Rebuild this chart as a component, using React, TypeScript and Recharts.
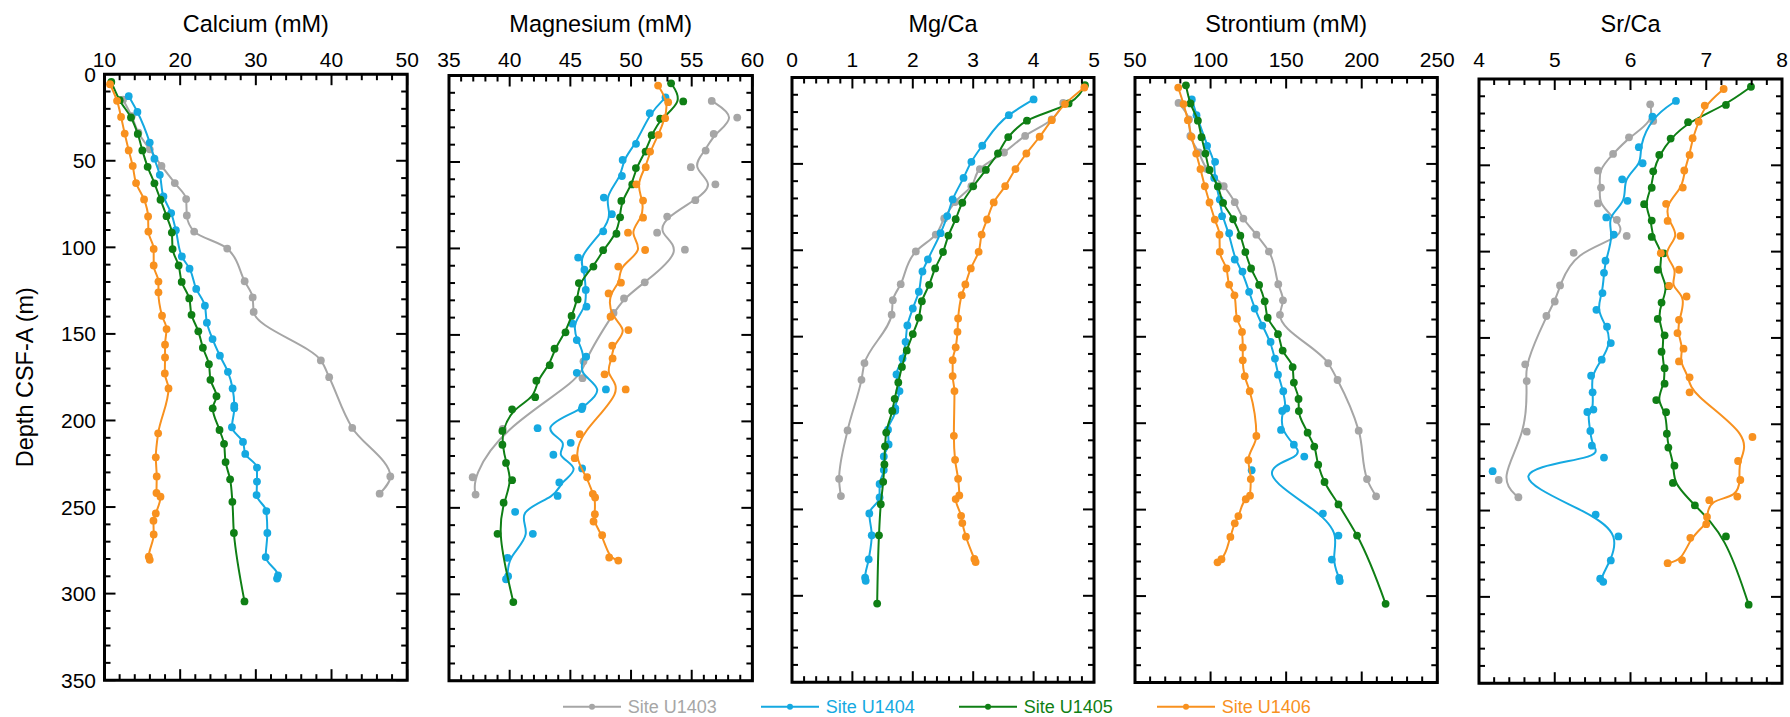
import React from 'react';
import { ScatterChart, Scatter, XAxis, YAxis, ReferenceArea } from 'recharts';

// Sites (legend order) and their colours
const SITES = ['Site U1403', 'Site U1404', 'Site U1405', 'Site U1406'];
const COLORS = ['#a6a6a6', '#15a9e1', '#0f7f15', '#f8911f'];

// Sample depths per site (m CSF-A)
const depthU1403 = [14.7, 24.3, 33.8, 43.4, 53, 62.9, 72.1, 81.6, 90.9, 100.7, 119.6, 128.9, 137.3, 165.3, 175, 204.3, 232.3, 242.3];
const depthU1404 = [12.7, 21.8, 39.5, 48.8, 58.1, 70.6, 80.2, 90.1, 105.3, 112.3, 124, 133.7, 143.5, 153, 162.6, 171.9, 181.5, 191.5, 192.9, 203.9, 212.4, 219.3, 227.2, 235.3, 243.1, 252.3, 265, 278.9, 289.5, 291.3];
const depthU1405 = [4.5, 15, 25, 34.5, 44, 53.5, 63, 72.5, 82, 91.5, 101, 110.5, 120, 129.5, 139, 148.5, 158, 167.5, 176.5, 186, 193, 205.5, 213.5, 224, 234, 247, 265, 304.5];
const depthU1406 = [5.8, 15.4, 24.7, 34.3, 44, 53, 62.9, 72.3, 82.2, 90.9, 100.9, 110.5, 119.8, 126, 139.5, 147.2, 156.2, 163.6, 172.8, 181.5, 207.4, 221.3, 232.3, 241.9, 244, 253.7, 257.9, 265.8, 278.7, 280.5];

// Calcium (mM)
const caU1403 = [12.45, 13.6, 14.48, 15.98, 17.53, 19.29, 20.79, 20.88, 21.85, 26.22, 28.52, 29.58, 29.71, 38.59, 39.69, 42.74, 47.77, 46.36];
const caU1404 = [13.2, 14.35, 15.98, 16.6, 17.31, 17.79, 18.81, 19.43, 20.22, 21.24, 22.12, 23.27, 23.53, 24.28, 25.25, 26.31, 26.93, 27.15, 27.15, 26.84, 28.3, 28.6, 30.15, 30.15, 30.1, 31.39, 31.52, 31.3, 32.93, 32.8];
const caU1405 = [10.9, 12.0, 13.5, 14.4, 15.0, 15.7, 16.6, 17.4, 18.2, 18.9, 19.0, 19.8, 20.2, 21.2, 21.5, 22.4, 23.0, 23.8, 24.0, 24.8, 24.3, 25.2, 25.8, 26.0, 26.6, 26.9, 27.1, 28.5];
const caU1406 = [10.73, 11.66, 12.19, 12.67, 13.2, 13.73, 14.17, 15.23, 15.76, 15.8, 16.5, 16.5, 17.13, 17.13, 17.6, 18.2, 18.0, 18.0, 17.97, 18.46, 17.09, 16.78, 16.9, 16.87, 17.4, 16.78, 16.47, 16.5, 15.85, 15.98];

// Magnesium (mM)
const mgU1403 = [56.65, 58.75, 56.81, 56.15, 54.93, 56.95, 55.3, 52.98, 52.15, 54.44, 51.13, 49.42, 48.56, 46.08, 46.0, 39.43, 36.95, 37.19];
const mgU1404 = [52.84, 51.54, 50.41, 49.31, 49.25, 47.76, 48.42, 47.71, 45.64, 46.16, 46.27, 46.33, 45.17, 45.53, 46.3, 45.53, 47.93, 46.0, 45.94, 42.3, 45.03, 43.6, 45.97, 44.09, 43.95, 40.45, 41.91, 39.82, 39.87, 39.7];
const mgU1405 = [53.3, 54.3, 52.4, 51.7, 51.2, 50.4, 50.1, 49.2, 49.1, 48.8, 47.7, 46.9, 45.7, 45.6, 45.1, 44.6, 43.7, 43.3, 42.2, 42.1, 40.2, 39.4, 39.4, 39.7, 40.2, 39.5, 39.0, 40.3];
const mgU1406 = [52.23, 53.06, 52.81, 52.26, 51.57, 51.21, 50.44, 50.99, 50.99, 49.75, 51.16, 48.95, 49.17, 48.15, 48.31, 49.78, 48.45, 48.48, 47.82, 49.56, 45.77, 45.36, 46.38, 46.85, 47.04, 47.02, 46.91, 47.62, 48.2, 48.95];

// Mg/Ca
const mgcaU1403 = [4.49, 4.3, 3.86, 3.51, 3.11, 2.97, 2.7, 2.52, 2.38, 2.05, 1.8, 1.67, 1.65, 1.2, 1.15, 0.92, 0.78, 0.81];
const mgcaU1404 = [4.0, 3.59, 3.15, 2.97, 2.84, 2.66, 2.57, 2.46, 2.25, 2.16, 2.1, 2.0, 1.91, 1.88, 1.83, 1.73, 1.78, 1.71, 1.71, 1.59, 1.6, 1.52, 1.52, 1.45, 1.45, 1.28, 1.32, 1.27, 1.21, 1.22];
const mgcaU1405 = [4.85, 4.58, 3.89, 3.58, 3.41, 3.21, 3.0, 2.82, 2.71, 2.59, 2.5, 2.37, 2.27, 2.15, 2.1, 2.0, 1.9, 1.82, 1.76, 1.7, 1.66, 1.56, 1.54, 1.53, 1.51, 1.47, 1.44, 1.41];
const mgcaU1406 = [4.84, 4.52, 4.3, 4.1, 3.88, 3.7, 3.53, 3.34, 3.23, 3.14, 3.09, 2.96, 2.87, 2.81, 2.75, 2.74, 2.71, 2.66, 2.66, 2.69, 2.68, 2.7, 2.75, 2.77, 2.71, 2.8, 2.82, 2.88, 3.02, 3.04];

// Strontium (mM) - null where no sample was plotted
const srU1403 = [78.8, 85.7, 86.6, 92.2, 97.6, 108.7, 116.0, 121.7, 130.3, 138.6, 144.8, 147.9, 145.9, 177.8, 184.0, 198.0, 203.5, 209.5];
const srU1404 = [87.6, 90.7, 97.7, 103.0, 102.4, 106.1, 107.6, 112.3, 116.0, 121.1, 125.5, 129.2, 134.2, 139.7, 142.6, 144.6, 148.1, 150.1, 147.4, 146.6, 155.1, 162.0, 127.2, null, null, 174.3, 184.6, 180.2, 185.1, 185.5];
const srU1405 = [83.7, 86.7, 91.6, 94, 96.6, 99.3, 104.8, 108.3, 114.9, 119.7, 123.0, 126.8, 132.1, 135.8, 137.8, 144.6, 147.7, 154.3, 155.1, 158.2, 158.4, 164.2, 168.6, 171.2, 175.4, 184.6, 196.9, 215.8];
const srU1406 = [78.6, 82.1, 85.0, 87.4, 90.5, 93.3, 96.2, 99.3, 102.8, 105.9, 106.1, 110.5, 112.3, 115.8, 117.5, 120.8, 121.3, 121.3, 122.6, 125.9, 130.3, 125.0, 126.6, 126.1, 123.3, 118.4, 116, 113.1, 107.2, 104.6];

// Sr/Ca
const srcaU1403 = [6.26, 6.3, 5.98, 5.77, 5.57, 5.61, 5.57, 5.82, 5.95, 5.25, 5.07, 5.0, 4.89, 4.61, 4.63, 4.63, 4.26, 4.52];
const srcaU1404 = [6.6, 6.29, 6.11, 6.16, 5.89, 5.96, 5.68, 5.78, 5.67, 5.65, 5.63, 5.55, 5.69, 5.74, 5.62, 5.48, 5.5, 5.51, 5.43, 5.47, 5.49, 5.65, 4.18, null, null, 5.54, 5.84, 5.74, 5.6, 5.64];
const srcaU1405 = [7.59, 7.26, 6.76, 6.53, 6.38, 6.3, 6.28, 6.18, 6.28, 6.28, 6.44, 6.36, 6.5, 6.41, 6.36, 6.45, 6.41, 6.45, 6.45, 6.34, 6.47, 6.48, 6.5, 6.58, 6.56, 6.85, 7.26, 7.56];
const srcaU1406 = [7.23, 6.98, 6.9, 6.82, 6.78, 6.71, 6.69, 6.47, 6.49, 6.66, 6.4, 6.64, 6.51, 6.74, 6.64, 6.62, 6.7, 6.64, 6.78, 6.78, 7.61, 7.42, 7.45, 7.41, 7.04, 7.01, 7.0, 6.79, 6.68, 6.49];

// Tick labels
const depthTicks = [0, 50, 100, 150, 200, 250, 300, 350];
const caTicks = [10, 20, 30, 40, 50];
const mgTicks = [35, 40, 45, 50, 55, 60];
const mgcaTicks = [0, 1, 2, 3, 4, 5];
const srTicks = [50, 100, 150, 200, 250];
const srcaTicks = [4, 5, 6, 7, 8];

const DEPTHS = [depthU1403, depthU1404, depthU1405, depthU1406];

// box = plot frame [left, top, right, bottom] in page pixels
const panels = [
  { title: 'Calcium (mM)', ticks: caTicks, minor: 2, series: [caU1403, caU1404, caU1405, caU1406], curves: ['monotoneY', 'monotoneY', 'monotoneY', 'monotoneY'], box: [104.5, 74.2, 407.2, 680.2] },
  { title: 'Magnesium (mM)', ticks: mgTicks, minor: 1, series: [mgU1403, mgU1404, mgU1405, mgU1406], curves: ['basis', 'basis', 'basis', 'basis'], box: [448.8, 75.5, 752.2, 680.8] },
  { title: 'Mg/Ca', ticks: mgcaTicks, minor: 0.2, series: [mgcaU1403, mgcaU1404, mgcaU1405, mgcaU1406], curves: ['monotoneY', 'monotoneY', 'monotoneY', 'monotoneY'], box: [791.5, 77.5, 1093.5, 682.2] },
  { title: 'Strontium (mM)', ticks: srTicks, minor: 10, series: [srU1403, srU1404, srU1405, srU1406], curves: ['monotoneY', 'basis', 'monotoneY', 'monotoneY'], box: [1134.5, 77.5, 1436.8, 682.5] },
  { title: 'Sr/Ca', ticks: srcaTicks, minor: 0.2, series: [srcaU1403, srcaU1404, srcaU1405, srcaU1406], curves: ['basis', 'basis', 'basis', 'basis'], box: [1478.5, 79, 1781.5, 683.2] },
];

const FONT = '"Liberation Sans", Arial, Helvetica, sans-serif';
const MAJOR_LEN = 11;
const MINOR_LEN = 6;
const LABEL_BASELINE = 66.7;

const stepTicks = (lo: number, hi: number, step: number) => {
  const n = Math.round((hi - lo) / step);
  const out: number[] = [];
  for (let i = 0; i <= n; i++) out.push(Math.round((lo + i * step) * 1000) / 1000);
  return out;
};

const isMajor = (v: number, majors: number[]) => majors.some((m) => Math.abs(m - v) < 1e-6);

const dot = (color: string) => (p: any) => <circle cx={p.cx} cy={p.cy} r={3.9} fill={color} />;

const Panel = ({ panel, first }: { panel: any; first: boolean }) => {
  const [left, top, right, bottom] = panel.box;
  const padL = first ? left : 25;
  const padR = 25;
  const padB = 12;
  const width = padL + (right - left) + padR;
  const height = bottom + padB;
  const domain = [panel.ticks[0], panel.ticks[panel.ticks.length - 1]];
  const xTicks = stepTicks(domain[0], domain[1], panel.minor);
  const yTicks = stepTicks(0, 350, 10);

  // ticks point inwards on all four sides, labels only on top / left
  const topTick = (p: any) => {
    const v = p.payload.value;
    const major = isMajor(v, panel.ticks);
    return (
      <g>
        <line x1={p.x} x2={p.x} y1={p.y} y2={p.y + (major ? MAJOR_LEN : MINOR_LEN)} stroke="#000" strokeWidth={2} />
        {major && (
          <text x={p.x} y={LABEL_BASELINE} textAnchor="middle" fontSize={21} fill="#000" fontFamily={FONT}>
            {String(v)}
          </text>
        )}
      </g>
    );
  };
  const bottomTick = (p: any) => {
    const major = isMajor(p.payload.value, panel.ticks);
    return <line x1={p.x} x2={p.x} y1={p.y} y2={p.y - (major ? MAJOR_LEN : MINOR_LEN)} stroke="#000" strokeWidth={2} />;
  };
  const leftTick = (p: any) => {
    const v = p.payload.value;
    const major = isMajor(v, depthTicks);
    return (
      <g>
        <line x1={p.x} x2={p.x + (major ? MAJOR_LEN : MINOR_LEN)} y1={p.y} y2={p.y} stroke="#000" strokeWidth={2} />
        {major && first && (
          <text x={p.x - 8.5} y={p.y} dy="0.36em" textAnchor="end" fontSize={21} fill="#000" fontFamily={FONT}>
            {String(v)}
          </text>
        )}
      </g>
    );
  };
  const rightTick = (p: any) => {
    const major = isMajor(p.payload.value, depthTicks);
    return <line x1={p.x} x2={p.x - (major ? MAJOR_LEN : MINOR_LEN)} y1={p.y} y2={p.y} stroke="#000" strokeWidth={2} />;
  };

  return (
    <div style={{ position: 'absolute', left: left - padL, top: 0 }}>
      <ScatterChart width={width} height={height} margin={{ top: 0, right: 0, bottom: 0, left: 0 }}>
        <XAxis
          type="number" dataKey="x" orientation="top" domain={domain} allowDataOverflow
          ticks={xTicks} interval={0} height={top} tickSize={0} tickMargin={0} axisLine={false} tick={topTick}
          label={{ value: panel.title, position: 'insideTop', offset: 15, fill: '#000', fontSize: 23.5, fontFamily: FONT }}
        />
        <XAxis
          xAxisId="b" type="number" dataKey="x" orientation="bottom" domain={domain} allowDataOverflow
          ticks={xTicks} interval={0} height={padB} tickSize={0} tickMargin={0} axisLine={false} tick={bottomTick}
        />
        <YAxis
          type="number" dataKey="y" domain={[0, 350]} reversed allowDataOverflow
          ticks={yTicks} interval={0} width={padL} tickSize={0} tickMargin={0} axisLine={false} tick={leftTick}
          label={first ? { value: 'Depth CSF-A (m)', angle: -90, position: 'insideLeft', offset: 25, fill: '#000', fontSize: 23.5, fontFamily: FONT, style: { textAnchor: 'middle' } } : undefined}
        />
        <YAxis
          yAxisId="r" type="number" dataKey="y" orientation="right" domain={[0, 350]} reversed allowDataOverflow
          ticks={yTicks} interval={0} width={padR} tickSize={0} tickMargin={0} axisLine={false} tick={rightTick}
        />
        {panel.series.map((vals: (number | null)[], i: number) => {
          const pts = vals
            .map((v, k) => ({ x: v, y: DEPTHS[i][k] }))
            .filter((d) => d.x !== null);
          return (
            <Scatter
              key={SITES[i]}
              name={SITES[i]}
              data={pts}
              fill={COLORS[i]}
              line={{ stroke: COLORS[i], strokeWidth: 2 }}
              lineType="joint"
              lineJointType={panel.curves[i]}
              shape={dot(COLORS[i])}
              isAnimationActive={false}
            />
          );
        })}
        <ReferenceArea x1={domain[0]} x2={domain[1]} y1={0} y2={350} fill="none" stroke="#000" strokeWidth={3} ifOverflow="visible" />
      </ScatterChart>
    </div>
  );
};

const LegendRow = () => (
  <svg width={1790} height={30} style={{ position: 'absolute', left: 0, top: 692 }}>
    {SITES.map((name, i) => {
      const x0 = 563 + i * 198;
      const y = 14.7;
      return (
        <g key={name}>
          <line x1={x0} x2={x0 + 58} y1={y} y2={y} stroke={COLORS[i]} strokeWidth={2} />
          <circle cx={x0 + 29} cy={y} r={3} fill={COLORS[i]} />
          <text x={x0 + 64.7} y={y} dy="0.36em" fontSize={18} fill={COLORS[i]} fontFamily={FONT}>
            {name}
          </text>
        </g>
      );
    })}
  </svg>
);

const App: React.FC = () => {
  return (
    <div style={{ position: 'absolute', left: 0, top: 0, width: 1790, height: 717, background: '#fff', fontFamily: FONT, overflow: 'hidden' }}>
      {panels.map((p, i) => (
        <Panel key={p.title} panel={p} first={i === 0} />
      ))}
      <LegendRow />
    </div>
  );
};

export default App;
